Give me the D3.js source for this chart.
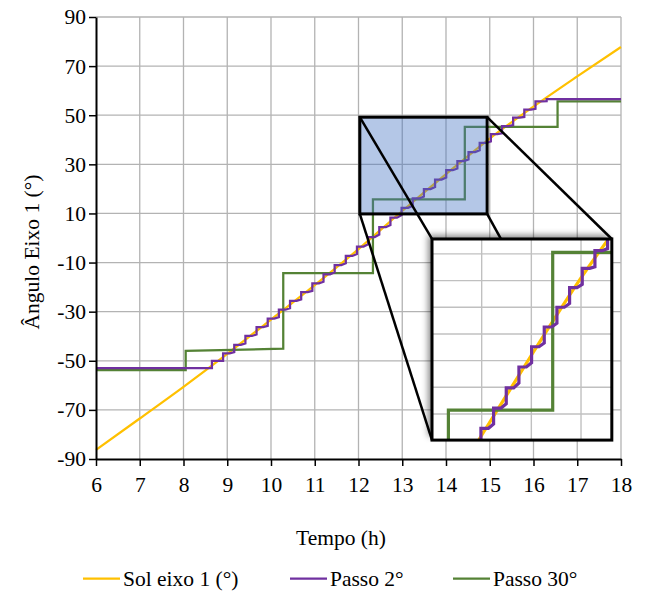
<!DOCTYPE html>
<html>
<head>
<meta charset="utf-8">
<script src="https://cdn.jsdelivr.net/npm/d3@7"></script>
<style>
  body { margin: 0; background: #fff; }
  text { font-family: "Liberation Serif", "Times New Roman", Tinos, "DejaVu Serif", "Noto Serif", serif; fill: #000; }
</style>
</head>
<body>
<svg id="chart"></svg>
<script>
// ---- data ----
const xTicks = [6, 7, 8, 9, 10, 11, 12, 13, 14, 15, 16, 17, 18];
const yTicks = [-90, -70, -50, -30, -10, 10, 30, 50, 70, 90];

const sunTimes = [6, 7, 8, 9, 10, 11, 12, 13, 14, 15, 16, 17, 18];
const sunAngles = [-86.3, -73.5, -60.6, -47.2, -33.2, -19.2, -4.5, 11.0, 26.0, 40.5, 53.5, 65.8, 77.8];

// Passo 2°: moment of each move and the angle just before it
const step2Start = -53, step2End = 56.6, step2Jump = 3, step2Dwell = 0.15;
const step2Times = [8.65, 8.905, 9.16, 9.415, 9.67, 9.925, 10.18, 10.435, 10.69, 10.945,
  11.2, 11.455, 11.71, 11.965, 12.22, 12.475, 12.73, 12.985, 13.24, 13.495,
  13.75, 14.005, 14.26, 14.515, 14.77, 15.025, 15.28, 15.535, 15.79, 16.045, 16.3];
const step2Levels = [-53, -50.0, -46.5, -42.9, -39.3, -35.8, -32.2, -28.6, -25.0, -21.5,
  -17.8, -14.0, -10.3, -6.5, -2.6, 1.4, 5.3, 9.3, 13.1, 16.9,
  20.8, 24.6, 28.3, 32.0, 35.7, 39.3, 42.6, 46.0, 49.3, 52.6, 55.7];

const step30Times = [6, 8.05, 8.05, 10.28, 10.28, 12.33, 12.33, 14.43, 14.43, 16.55, 16.55, 18];
const step30Angles = [-53.8, -53.8, -46.0, -45.1, -14.3, -14.3, 15.7, 15.7, 45.3, 45.3, 55.6, 55.6];

const seriesNames = ["Sol eixo 1 (°)", "Passo 2°", "Passo 30°"];
const seriesColors = ["#FFC000", "#7030A0", "#548235"];

// zoomed region and inset
const zoomX = [12.03, 14.94], zoomY = [9.8, 49.2];
const insetX = [12, 15.62], insetY = [10.1, 47.8];
const insetXTicks = [13, 14, 15];
const insetYTicks = [15, 20, 25, 30, 35, 40, 45];
// where the inset sits, in main chart units
const boxX = [13.68, 17.79], boxY = [-82.3, -0.4];

// ---- build the Passo 2° outline from its moves ----
const step2Points = [[6, step2Start]];
step2Times.forEach((t, i) => {
  const top = Math.min(step2Levels[i] + step2Jump, step2End);
  step2Points.push([t, step2Levels[i]], [t, top]);
  if (i < step2Times.length - 1) step2Points.push([t + step2Dwell, top]);
});
step2Points.push([18, step2End]);

// ---- layout ----
const W = 648, H = 593;
const svg = d3.select("#chart").attr("width", W).attr("height", H);
const x = d3.scaleLinear().domain([6, 18]).range([96, 621]);
const y = d3.scaleLinear().domain([-90, 90]).range([459, 17]);

const defs = svg.append("defs");
defs.append("filter").attr("id", "shadow")
    .attr("x", "-20%").attr("y", "-20%").attr("width", "140%").attr("height", "140%")
  .append("feDropShadow")
    .attr("dx", -4).attr("dy", -4).attr("stdDeviation", 3)
    .attr("flood-color", "#000").attr("flood-opacity", 0.45);

// grid
const grid = svg.append("g");
grid.selectAll(".gx").data(xTicks.slice(1)).join("line")
    .attr("x1", d => x(d)).attr("x2", d => x(d))
    .attr("y1", y(90)).attr("y2", y(-90))
    .attr("stroke", "#b3b3b3").attr("stroke-width", 1.3);
grid.selectAll(".gy").data(yTicks.slice(1)).join("line")
    .attr("x1", x(6)).attr("x2", x(18))
    .attr("y1", d => y(d)).attr("y2", d => y(d))
    .attr("stroke", "#b3b3b3").attr("stroke-width", 1.3);

function drawSeries(g, xs, ys, lw) {
  const sun = d3.line().x((d, i) => xs(sunTimes[i])).y(d => ys(d)).curve(d3.curveMonotoneX);
  const s2 = d3.line().x(d => xs(d[0])).y(d => ys(d[1]));
  const s30 = d3.line().x((d, i) => xs(step30Times[i])).y(d => ys(d));
  g.append("path").attr("d", sun(sunAngles)).attr("fill", "none")
      .attr("stroke", seriesColors[0]).attr("stroke-width", lw);
  g.append("path").attr("d", s30(step30Angles)).attr("fill", "none")
      .attr("stroke", seriesColors[2]).attr("stroke-width", lw);
  g.append("path").attr("d", s2(step2Points)).attr("fill", "none")
      .attr("stroke", seriesColors[1]).attr("stroke-width", lw).attr("stroke-linejoin", "miter");
}
drawSeries(svg.append("g"), x, y, 2.25);

// axes
const fmt = d => String(d);
const yAxis = svg.append("g").attr("transform", `translate(${x(6)},0)`)
    .call(d3.axisLeft(y).tickValues(yTicks).tickSize(7).tickSizeOuter(0).tickPadding(3).tickFormat(fmt));
const xAxis = svg.append("g").attr("transform", `translate(0,${y(-90)})`)
    .call(d3.axisBottom(x).tickValues(xTicks).tickSize(7).tickSizeOuter(0).tickPadding(11).tickFormat(fmt));
[yAxis, xAxis].forEach(a => {
  a.attr("font-family", null).attr("font-size", null);
  a.select(".domain").attr("stroke", "#000").attr("stroke-width", 2);
  a.selectAll(".tick line").attr("stroke", "#000").attr("stroke-width", 1.5);
  a.selectAll(".tick text").attr("font-size", 21.5).attr("fill", "#000");
});

// titles
svg.append("text").attr("x", 341).attr("y", 545).attr("text-anchor", "middle")
    .attr("font-size", 21.5).text("Tempo (h)");
svg.append("text").attr("transform", "translate(39,252) rotate(-90)")
    .attr("text-anchor", "middle").attr("font-size", 21.5).text("Ângulo Eixo 1 (°)");

// zoom highlight
svg.append("rect")
    .attr("x", x(zoomX[0])).attr("y", y(zoomY[1]))
    .attr("width", x(zoomX[1]) - x(zoomX[0])).attr("height", y(zoomY[0]) - y(zoomY[1]))
    .attr("fill", "rgb(68,114,196)").attr("fill-opacity", 0.4)
    .attr("stroke", "#000").attr("stroke-width", 3);

// connectors
const links = [
  [[zoomX[0], zoomY[1]], [boxX[0], boxY[1]]],
  [[zoomX[1], zoomY[1]], [boxX[1], boxY[1]]],
  [[zoomX[0], zoomY[0]], [boxX[0], boxY[0]]],
  [[zoomX[1], zoomY[0]], [boxX[1], boxY[0]]]
];
svg.selectAll(".link").data(links).join("line")
    .attr("x1", d => x(d[0][0])).attr("y1", d => y(d[0][1]))
    .attr("x2", d => x(d[1][0])).attr("y2", d => y(d[1][1]))
    .attr("stroke", "#000").attr("stroke-width", 2.5);

// inset
const bx0 = x(boxX[0]), bx1 = x(boxX[1]), by0 = y(boxY[1]), by1 = y(boxY[0]);
const ix = d3.scaleLinear().domain(insetX).range([bx0, bx1]);
const iy = d3.scaleLinear().domain(insetY).range([by1, by0]);
defs.append("clipPath").attr("id", "insetClip").append("rect")
    .attr("x", bx0).attr("y", by0).attr("width", bx1 - bx0).attr("height", by1 - by0);

svg.append("rect").attr("x", bx0).attr("y", by0).attr("width", bx1 - bx0).attr("height", by1 - by0)
    .attr("fill", "#fff").attr("filter", "url(#shadow)");
const inset = svg.append("g").attr("clip-path", "url(#insetClip)");
inset.selectAll(".igx").data(insetXTicks).join("line")
    .attr("x1", d => ix(d)).attr("x2", d => ix(d)).attr("y1", by0).attr("y2", by1)
    .attr("stroke", "#c0c0c0").attr("stroke-width", 1.4);
inset.selectAll(".igy").data(insetYTicks).join("line")
    .attr("x1", bx0).attr("x2", bx1).attr("y1", d => iy(d)).attr("y2", d => iy(d))
    .attr("stroke", "#c0c0c0").attr("stroke-width", 1.4);
drawSeries(inset, ix, iy, 3.2);
svg.append("rect").attr("x", bx0).attr("y", by0).attr("width", bx1 - bx0).attr("height", by1 - by0)
    .attr("fill", "none").attr("stroke", "#000").attr("stroke-width", 3);

// legend
const legendX = [83, 290, 453];
const leg = svg.append("g");
seriesNames.forEach((name, i) => {
  leg.append("line").attr("x1", legendX[i]).attr("x2", legendX[i] + 37)
      .attr("y1", 578.5).attr("y2", 578.5)
      .attr("stroke", seriesColors[i]).attr("stroke-width", 2.25);
  leg.append("text").attr("x", legendX[i] + 40).attr("y", 585.5)
      .attr("font-size", 21.5).text(name);
});
</script>
</body>
</html>
